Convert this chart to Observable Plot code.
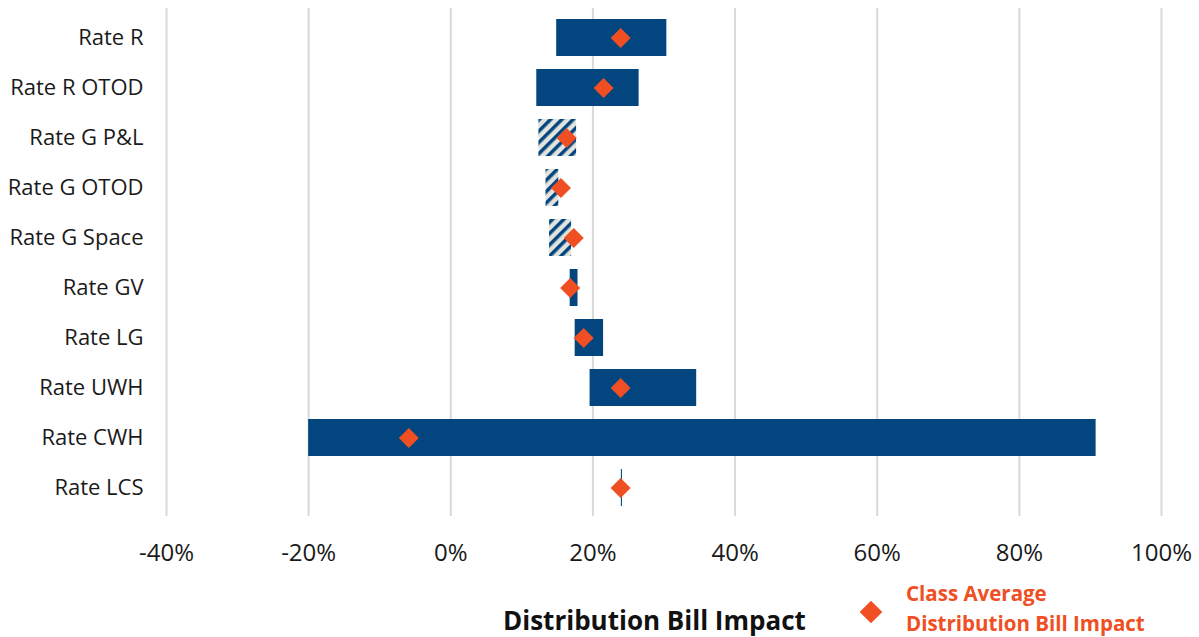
<!DOCTYPE html>
<html>
<head>
<meta charset="utf-8">
<script src="https://cdn.jsdelivr.net/npm/d3@7"></script>
<script src="https://cdn.jsdelivr.net/npm/@observablehq/plot@0.6"></script>
<style>
  body { margin: 0; background: #fff; font-family: "Open Sans", sans-serif; }
  #wrap { position: relative; width: 1199px; height: 637px; overflow: hidden; }
  #chart { position: absolute; left: 0; top: 0; }
  #xtitle { position: absolute; left: 503px; top: 605px; font-size: 26px; line-height: 30px; font-weight: bold; color: #111; white-space: nowrap; }
  #legsym { position: absolute; left: 863px; top: 604px; width: 16px; height: 16px; background: #f04e23; transform: rotate(45deg); }
  #legtext { position: absolute; left: 906px; top: 578px; font-size: 20.5px; font-weight: bold; color: #f04e23; line-height: 30px; white-space: nowrap; }
</style>
</head>
<body>
<div id="wrap">
  <div id="chart"></div>
  <div id="xtitle">Distribution Bill Impact</div>
  <div id="legsym"></div>
  <div id="legtext">Class Average<br>Distribution Bill Impact</div>
</div>
<script>
const rates = ["Rate R", "Rate R OTOD", "Rate G P&L", "Rate G OTOD", "Rate G Space", "Rate GV", "Rate LG", "Rate UWH", "Rate CWH", "Rate LCS"];
const lowValues = [14.9, 12.1, 12.4, 13.4, 13.9, 16.8, 17.5, 19.6, -20.0, 24.0];
const highValues = [30.4, 26.5, 17.7, 15.2, 17.0, 17.9, 21.5, 34.6, 90.8, 24.15];
const averageValues = [23.9, 21.5, 16.3, 15.5, 17.3, 16.8, 18.7, 23.9, -5.9, 23.9];
const hatched = [false, false, true, true, true, false, false, false, false, false];
const xTicks = [-40, -20, 0, 20, 40, 60, 80, 100];

const data = rates.map((r, i) => ({rate: r, lo: lowValues[i], hi: highValues[i], avg: averageValues[i], hatched: hatched[i]}));

const navy = "#03467f";
const orange = "#f04e23";

const plot = Plot.plot({
  width: 1199,
  height: 580,
  marginLeft: 166,
  marginRight: 38,
  marginTop: 8,
  marginBottom: 64,
  style: {fontFamily: "'Open Sans', sans-serif", fontSize: "22px", color: "#1a1a1a", background: "#fff", overflow: "visible"},
  x: {domain: [-40, 100], ticks: xTicks, tickFormat: d => d + "%", tickSize: 0, tickPadding: 27, label: null},
  y: {domain: rates, paddingInner: 0.27, paddingOuter: 0.135, tickSize: 0, tickPadding: 23, label: null},
  marks: [
    Plot.ruleX(xTicks, {stroke: "#d9d9d9", strokeWidth: 2}),
    Plot.barX(data.filter(d => !d.hatched), {x1: "lo", x2: "hi", y: "rate", fill: navy}),
    Plot.barX(data.filter(d => d.hatched), {x1: "lo", x2: "hi", y: "rate", fill: "url(#hatch)"}),
    Plot.ruleX([0], {y1: "Rate CWH", y2: "Rate CWH", stroke: "#d9d9d9", strokeWidth: 2}),
    Plot.dot(data, {x: "avg", y: "rate", symbol: "diamond2", r: 9, fill: orange, stroke: "none"})
  ]
});

d3.select(plot).selectAll("[aria-label='x-axis tick label'] text").style("font-size", "24px");

// hatch pattern definition
const svg = d3.select(plot);
const defs = svg.insert("defs", ":first-child");
const pat = defs.append("pattern")
  .attr("id", "hatch")
  .attr("patternUnits", "userSpaceOnUse")
  .attr("width", 8).attr("height", 8)
  .attr("patternTransform", "rotate(45)");
pat.append("rect").attr("width", 8).attr("height", 8).attr("fill", "#e3e3de");
pat.append("rect").attr("width", 3.5).attr("height", 8).attr("fill", navy);

document.getElementById("chart").appendChild(plot);
</script>
</body>
</html>
